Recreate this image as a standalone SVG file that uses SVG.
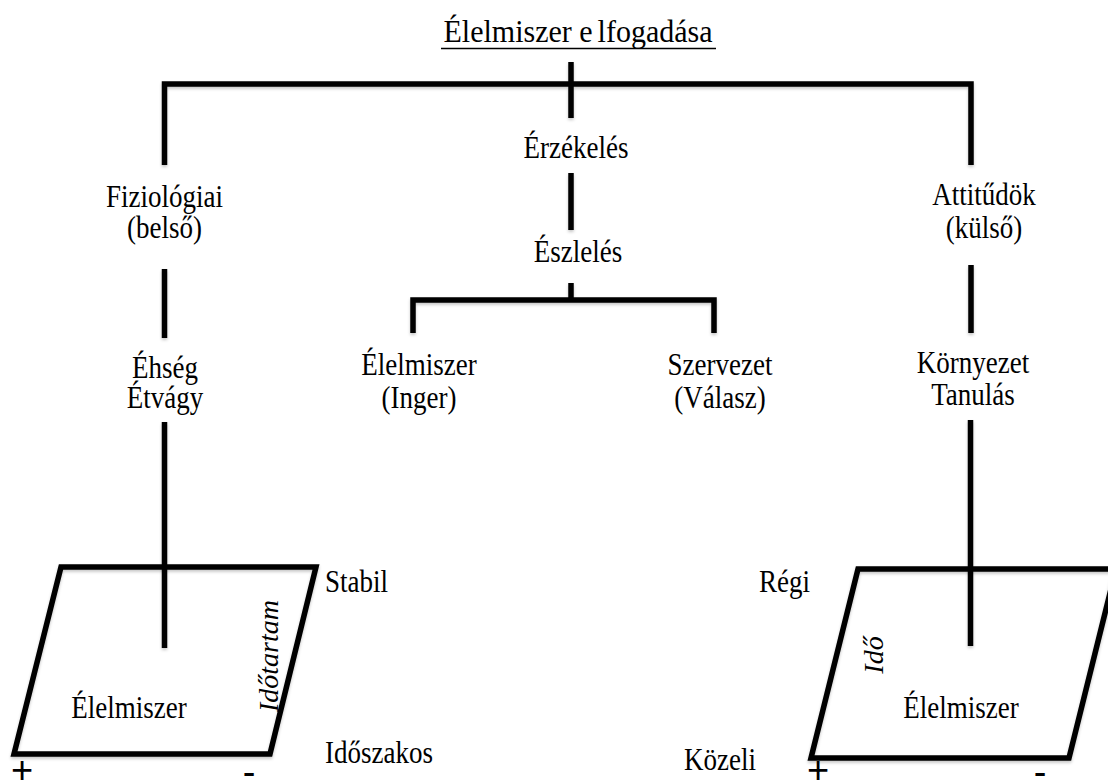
<svg xmlns="http://www.w3.org/2000/svg" width="1108" height="783" viewBox="0 0 1108 783">
  <defs>
    <filter id="soft" x="-5%" y="-5%" width="110%" height="120%">
      <feDropShadow dx="0" dy="2" stdDeviation="1.5" flood-color="#000" flood-opacity="0.22"/>
    </filter>
    <style>
      .t { font-family: 'Liberation Serif', 'Times New Roman', serif; font-size: 27px; fill: #000; }
      .c { text-anchor: middle; }
      .it { font-style: italic; }
      .sign { font-family: 'Liberation Sans', Arial, sans-serif; font-size: 38px; text-anchor: middle; fill: #000; }
      .ln { stroke: #000; stroke-width: 5.5; fill: none; stroke-linecap: butt; stroke-linejoin: miter; }
    </style>
  </defs>
  <rect width="1108" height="783" fill="#fff"/>

  <!-- connectors -->
  <g id="connectors" class="ln" filter="url(#soft)">
    <!-- top bracket -->
    <path d="M164.5,165 V84 H971 V165"/>
    <path d="M571,62 V118"/>
    <!-- centre chain -->
    <path d="M571,173 V230"/>
    <path d="M571,283 V300"/>
    <path d="M413,333 V300 H714 V333"/>
    <!-- left chain -->
    <path d="M164.5,269 V338"/>
    <path d="M164.5,422 V648"/>
    <!-- right chain -->
    <path d="M971,265 V333"/>
    <path d="M970.5,420 V646"/>
  </g>

  <!-- text is set slightly tall: matrix(1 0 0 1.18 x y) -->
  <g id="title">
    <text class="t c" transform="matrix(1 0 0 1.08 578 42)" style="font-size:30px">Élelmiszer e<tspan dx="5">lfogadása</tspan></text>
    <line x1="441" y1="48.5" x2="716" y2="48.5" stroke="#000" stroke-width="1.6"/>
  </g>

  <g id="node-erzekeles"><text class="t c" transform="matrix(1 0 0 1.18 576 158)">Érzékelés</text></g>
  <g id="node-eszleles"><text class="t c" transform="matrix(1 0 0 1.18 578 262)">Észlelés</text></g>

  <g id="node-fiziologiai">
    <text class="t c" transform="matrix(1 0 0 1.18 164.5 207)">Fiziológiai</text>
    <text class="t c" transform="matrix(1 0 0 1.18 164.5 238)">(belső)</text>
  </g>
  <g id="node-attitudok">
    <text class="t c" transform="matrix(1 0 0 1.18 984 205)">Attitűdök</text>
    <text class="t c" transform="matrix(1 0 0 1.18 984 238)">(külső)</text>
  </g>

  <g id="node-ehseg">
    <text class="t c" transform="matrix(1 0 0 1.18 165 378)">Éhség</text>
    <text class="t c" transform="matrix(1 0 0 1.18 165 408)">Étvágy</text>
  </g>
  <g id="node-inger">
    <text class="t c" transform="matrix(1 0 0 1.18 419 375)">Élelmiszer</text>
    <text class="t c" transform="matrix(1 0 0 1.18 419 408)">(Inger)</text>
  </g>
  <g id="node-valasz">
    <text class="t c" transform="matrix(1 0 0 1.18 720 375)">Szervezet</text>
    <text class="t c" transform="matrix(1 0 0 1.18 720 408)">(Válasz)</text>
  </g>
  <g id="node-kornyezet">
    <text class="t c" transform="matrix(1 0 0 1.18 973 373)">Környezet</text>
    <text class="t c" transform="matrix(1 0 0 1.18 973 405)">Tanulás</text>
  </g>

  <!-- left plane: duration axis -->
  <g id="plane-left">
    <polygon class="ln" points="61,567 316,567 270,754 14,754" filter="url(#soft)"/>
    <text class="t c" transform="matrix(1 0 0 1.18 129 718)">Élelmiszer</text>
    <text class="t c it" transform="translate(278,656) rotate(-90)" style="font-size:28px">Időtartam</text>
    <text class="t" transform="matrix(1 0 0 1.18 325 592)">Stabil</text>
    <text class="t" transform="matrix(1 0 0 1.18 325 763)">Időszakos</text>
    <text class="sign" x="22" y="783">+</text>
    <text class="sign" x="249" y="785">-</text>
  </g>

  <!-- right plane: time axis -->
  <g id="plane-right">
    <polygon class="ln" points="858,569 1116,569 1069,758 811,758" filter="url(#soft)"/>
    <text class="t c" transform="matrix(1 0 0 1.18 961 718)">Élelmiszer</text>
    <text class="t c it" transform="translate(883,655) rotate(-90)" style="font-size:28px">Idő</text>
    <text class="t" transform="matrix(1 0 0 1.18 759 592)">Régi</text>
    <text class="t" transform="matrix(1 0 0 1.18 756 770)" text-anchor="end">Közeli</text>
    <text class="sign" x="818" y="783">+</text>
    <text class="sign" x="1040" y="785">-</text>
  </g>
</svg>
